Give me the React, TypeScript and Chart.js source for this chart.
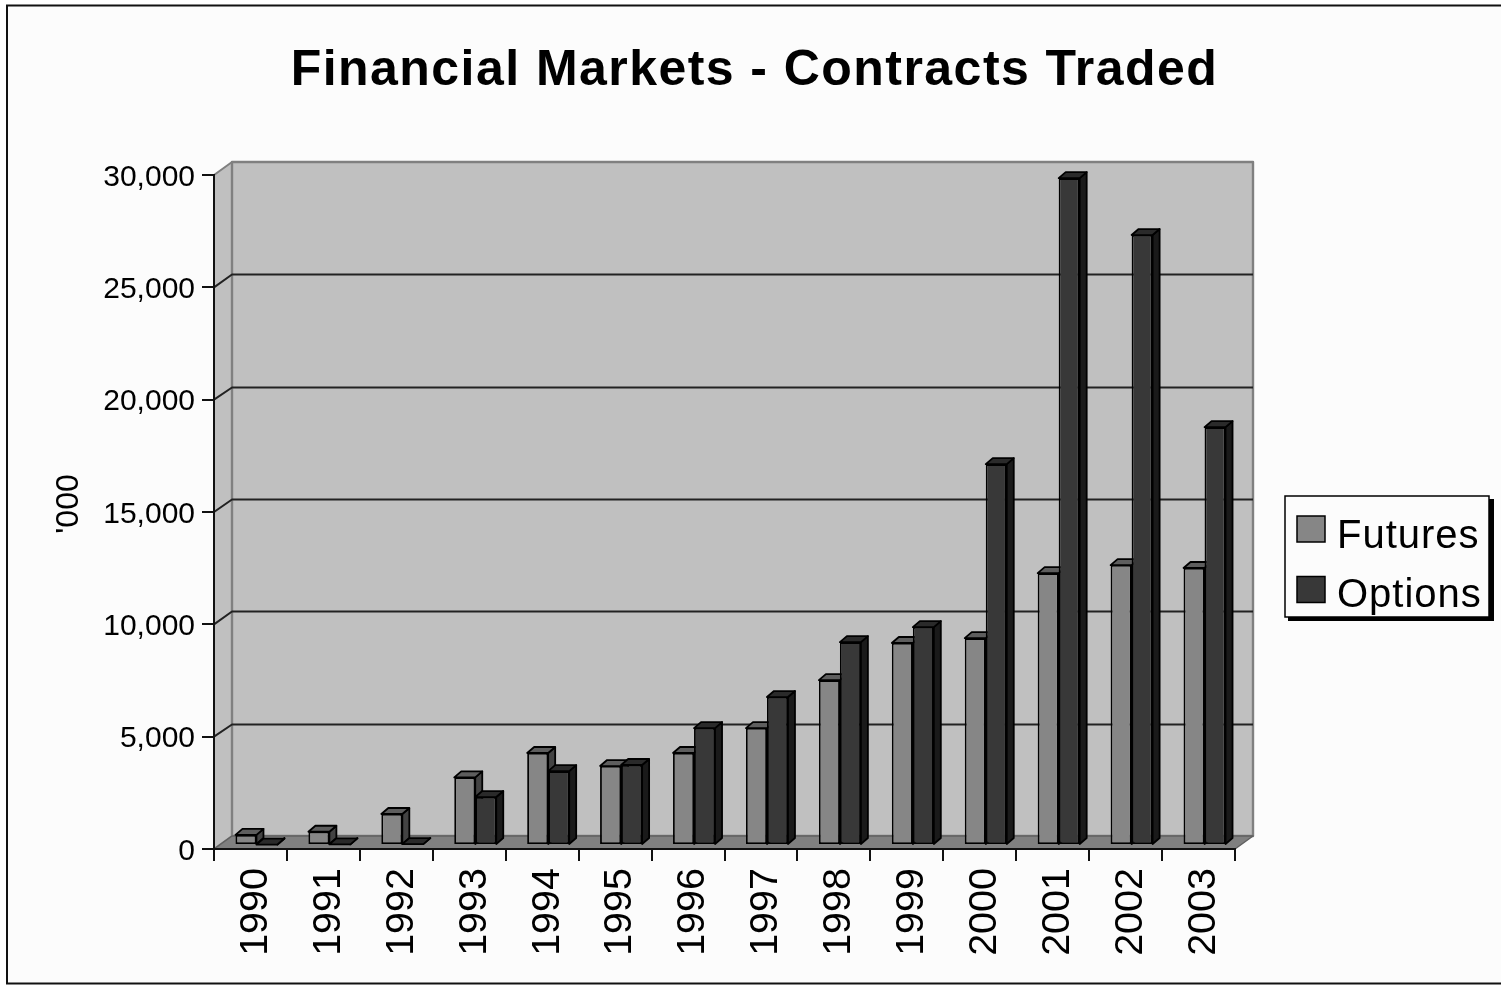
import React, { useEffect, useRef } from "react";
import { Chart, registerables } from "chart.js";

Chart.register(...registerables);

const chartTitle = "Financial Markets - Contracts Traded";
const yAxisTitle = "'000";
const years = ["1990","1991","1992","1993","1994","1995","1996","1997","1998","1999","2000","2001","2002","2003"];
const futures = [450,590,1380,3010,4095,3515,4095,5205,7340,8990,9210,12100,12460,12330];
const options = [20,25,40,2135,3290,3560,5205,6585,9030,9700,16950,29680,27150,18600];

const W = 1501, H = 985;
const AREA = { left: 214, right: 1235, top: 175, bottom: 849 };
const DEPTH = { x: 18, y: 13 };
const BAR_SHIFT = { x: 6, y: 4 };
const BAR_DEPTH = { x: 7, y: 6 };
const FONT = "'Liberation Sans', Arial, sans-serif";

const faces: Record<number, { top: string; side: string }> = {
  0: { top: "#5e5e5e", side: "#434343" },
  1: { top: "#2a2a2a", side: "#1a1a1a" },
};

function poly(ctx: CanvasRenderingContext2D, pts: number[][], fill: string, stroke: string, lw: number) {
  ctx.beginPath();
  pts.forEach((p, i) => (i ? ctx.lineTo(p[0], p[1]) : ctx.moveTo(p[0], p[1])));
  ctx.closePath();
  ctx.fillStyle = fill;
  ctx.fill();
  ctx.strokeStyle = stroke;
  ctx.lineWidth = lw;
  ctx.lineJoin = "round";
  ctx.stroke();
}

function drawFaces(ctx: CanvasRenderingContext2D, meta: any, index: number) {
  const f = faces[index];
  meta.data.forEach((bar: any) => {
    const l = bar.x - bar.width / 2, r = bar.x + bar.width / 2;
    const b = bar.base, t = bar.y;
    const ex = BAR_DEPTH.x, ey = BAR_DEPTH.y;
    poly(ctx, [[r, t], [r + ex, t - ey], [r + ex, b - ey], [r, b]], f.side, "#000", 1.8);
    poly(ctx, [[l, t], [r, t], [r + ex, t - ey], [l + ex, t - ey]], f.top, "#000", 1.8);
  });
}

const scenePlugin = {
  id: "scene",
  afterInit(chart: any) {
    const tb = chart.titleBlock;
    if (tb) {
      const d = tb.draw.bind(tb);
      tb.draw = () => {
        const c = chart.ctx;
        c.save();
        c.translate(137, 0);
        (c as any).letterSpacing = "1.45px";
        d();
        c.restore();
      };
    }
  },
  afterLayout(chart: any) {
    const y = chart.scales.y;
    if (y && !y.__wrappedTitle) {
      y.__wrappedTitle = true;
      const d = y.drawTitle.bind(y);
      y.drawTitle = () => {
        const c = chart.ctx;
        c.save();
        c.translate(0, -8);
        d();
        c.restore();
      };
    }
  },
  beforeDraw(chart: any) {
    const ctx: CanvasRenderingContext2D = chart.ctx;
    const { left, right, top, bottom } = chart.chartArea;
    const y = chart.scales.y;
    ctx.save();
    ctx.fillStyle = "#ffffff";
    ctx.fillRect(0, 0, W, H);
    ctx.fillStyle = "#fcfcfc";
    ctx.fillRect(7, 5, W, 979);
    ctx.strokeStyle = "#111";
    ctx.lineWidth = 2;
    ctx.strokeRect(7, 5.5, W + 10, 978);

    const dx = DEPTH.x, dy = DEPTH.y;
    poly(ctx, [[left, bottom], [left, top], [left + dx, top - dy], [left + dx, bottom - dy]], "#c0c0c0", "#808080", 2);
    poly(ctx, [[left + dx, top - dy], [right + dx, top - dy], [right + dx, bottom - dy], [left + dx, bottom - dy]], "#c0c0c0", "#808080", 2.4);
    poly(ctx, [[left, bottom], [right, bottom], [right + dx, bottom - dy], [left + dx, bottom - dy]], "#808080", "#606060", 1.5);

    ctx.strokeStyle = "#222";
    ctx.lineWidth = 2;
    y.ticks.forEach((t: any) => {
      if (t.value === 0 || t.value === 30000) return;
      const fy = y.getPixelForValue(t.value);
      const py = Math.round(fy - dy) + 0.5;
      ctx.beginPath();
      ctx.moveTo(left, fy);
      ctx.lineTo(left + dx, py);
      ctx.lineTo(right + dx, py);
      ctx.stroke();
    });
    ctx.restore();
  },
  beforeDatasetDraw(chart: any, args: any) {
    if (args.index === 1) return false;
    const ctx: CanvasRenderingContext2D = chart.ctx;
    ctx.save();
    ctx.translate(BAR_SHIFT.x, -BAR_SHIFT.y);
    drawFaces(ctx, args.meta, args.index);
  },
  afterDatasetDraw(chart: any) {
    chart.ctx.restore();
  },
  afterDatasetsDraw(chart: any) {
    const ctx: CanvasRenderingContext2D = chart.ctx;
    const meta = chart.getDatasetMeta(1);
    ctx.save();
    ctx.translate(BAR_SHIFT.x, -BAR_SHIFT.y);
    drawFaces(ctx, meta, 1);
    meta.controller.draw();
    ctx.restore();
  },
  afterDraw(chart: any) {
    const ctx: CanvasRenderingContext2D = chart.ctx;
    ctx.save();
    ctx.fillStyle = "#000";
    ctx.fillRect(1288, 499, 206, 122);
    ctx.fillStyle = "#fcfcfc";
    ctx.fillRect(1285, 496, 204, 121);
    ctx.strokeStyle = "#000";
    ctx.lineWidth = 1.5;
    ctx.strokeRect(1285, 496, 204, 121);
    ctx.textBaseline = "alphabetic";
    ctx.textAlign = "left";
    ctx.font = `40px ${FONT}`;
    (ctx as any).letterSpacing = "1px";
    chart.data.datasets.forEach((ds: any, i: number) => {
      const sy = 516 + i * 60.5;
      ctx.fillStyle = ds.backgroundColor;
      ctx.fillRect(1297, sy, 28, 26);
      ctx.strokeStyle = "#000";
      ctx.strokeRect(1297, sy, 28, 26);
      ctx.fillStyle = "#000";
      ctx.fillText(ds.label, 1337, 548 + i * 59);
    });
    ctx.restore();
  },
};

export default function App() {
  const ref = useRef<HTMLCanvasElement>(null);
  useEffect(() => {
    const chart = new Chart(ref.current as HTMLCanvasElement, {
      type: "bar",
      data: {
        labels: years,
        datasets: [
          { label: "Futures", data: futures, backgroundColor: "#868686" },
          { label: "Options", data: options, backgroundColor: "#383838" },
        ],
      },
      options: {
        responsive: false,
        animation: false,
        devicePixelRatio: 1,
        layout: { padding: { left: 0, right: W - AREA.right, top: 0, bottom: 0 } },
        datasets: {
          bar: {
            categoryPercentage: 0.576,
            barPercentage: 1,
            borderColor: "#000",
            borderWidth: 1.8,
            borderSkipped: false,
            clip: false,
          },
        },
        plugins: {
          legend: { display: false },
          tooltip: { enabled: false },
          title: {
            display: true,
            text: chartTitle,
            color: "#000",
            font: { family: FONT, size: 50, weight: "bold", lineHeight: 1 },
            padding: { top: 46, bottom: AREA.top - 46 - 50 },
            align: "center",
            fullSize: true,
          },
        },
        scales: {
          x: {
            afterFit: (s: any) => { s.height = H - AREA.bottom; },
            grid: { offset: true, drawOnChartArea: false, drawTicks: true, tickLength: 12, color: "#111", lineWidth: 2 },
            border: { display: true, color: "#111", width: 2 },
            ticks: {
              minRotation: 90,
              maxRotation: 90,
              autoSkip: false,
              padding: 7,
              labelOffset: 5.5,
              color: "#000",
              font: { family: FONT, size: 39.5 },
            },
          },
          y: {
            min: 0,
            max: 30000,
            afterFit: (s: any) => { s.width = AREA.left; },
            grid: { drawOnChartArea: false, drawTicks: true, tickLength: 12, color: "#111", lineWidth: 2 },
            border: { display: true, color: "#111", width: 2 },
            ticks: {
              stepSize: 5000,
              padding: 7,
              labelOffset: 2.5,
              color: "#000",
              font: { family: FONT, size: 30 },
              callback: (v: any) => Number(v).toLocaleString("en-US"),
            },
            title: {
              display: true,
              text: yAxisTitle,
              color: "#000",
              font: { family: FONT, size: 32, lineHeight: 1 },
              padding: { top: 53, bottom: 0 },
            },
          },
        },
      } as any,
      plugins: [scenePlugin as any],
    });
    return () => chart.destroy();
  }, []);
  return (
    <div style={{ position: "fixed", left: 0, top: 0, width: W, height: H, overflow: "hidden" }}>
      <canvas ref={ref} width={W} height={H} style={{ display: "block", width: W, height: H }} />
    </div>
  );
}
